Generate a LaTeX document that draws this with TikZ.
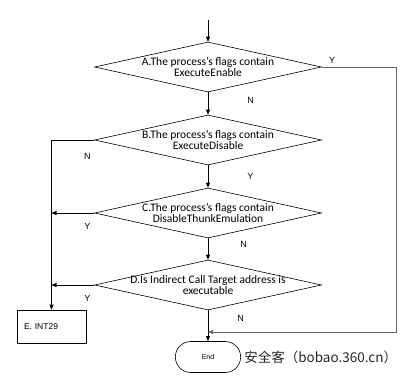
\documentclass[tikz,border=0pt]{standalone}
\usepackage{fontspec}
\setmainfont{Carlito}
\newfontfamily\labelfont{Liberation Sans}
\newfontfamily\cjkfont{Noto Sans CJK SC}
\usetikzlibrary{shapes.geometric, shapes.misc, arrows.meta}

\begin{document}
\begin{tikzpicture}[x=1pt, y=-1pt, line width=0.6pt,
        decision/.style={diamond, draw, minimum width=227pt, minimum height=50pt, inner sep=0pt},
        dtext/.style={font=\fontsize{11.5}{11}\selectfont, align=center, inner sep=0pt},
        procbox/.style={rectangle, draw, minimum height=33pt, text width=55pt, inner xsep=7pt, align=left, font=\labelfont\fontsize{8.5}{10}\selectfont},
        terminal/.style={rounded rectangle, draw, minimum width=72pt, minimum height=31pt, font=\labelfont\fontsize{7}{8}\selectfont},
        lbl/.style={font=\labelfont\fontsize{9}{10}\selectfont, inner sep=1pt},
        arr/.style={-{Triangle[length=5pt, width=4pt]}}]
    \useasboundingbox (0,0) rectangle (415,375);
    \coordinate (start) at (208,20);
    \node[decision, label={[dtext]center:{A.The process’s flags contain\\ExecuteEnable}}] (dA) at (208,67) {};
    \node[decision, label={[dtext]center:{B.The process’s flags contain\\ExecuteDisable}}] (dB) at (208,140) {};
    \node[decision, label={[dtext]center:{C.The process’s flags contain\\DisableThunkEmulation}}] (dC) at (208,213) {};
    \node[decision, label={[dtext]center:{D.Is Indirect Call Target address is\\executable}}] (dD) at (208,285) {};
    \node[procbox] (boxE) at (51.5,326.5) {E. INT29};
    \node[terminal] (endT) at (208,357) {End};
    \node[anchor=west, inner sep=0pt, font=\cjkfont\fontsize{13.5}{15}\selectfont, black!85] (wmark) at (244,357) {安全客（bobao.360.cn）};
    \coordinate (loopR) at (396,332);
    \coordinate (joinE) at (208,332);
    % main line
    \draw[arr] (start) -- (dA.north);
    \draw[arr] (dA.south) -- node[lbl, pos=0.35, right=38pt] {N} (dB.north);
    \draw[arr] (dB.south) -- node[lbl, pos=0.5, right=38pt] {Y} (dC.north);
    \draw[arr] (dC.south) -- node[lbl, pos=0.3, right=31pt] {N} (dD.north);
    \draw[arr] (dD.south) -- node[lbl, pos=0.25, right=28pt] {N} (endT.north);
    % right loop
    \draw[arr, black!60] (dA.east) -| node[lbl, pos=0.07, above=2pt, black] {Y} (loopR) -- (joinE);
    % left side
    \draw[arr] (dB.west) -| node[lbl, pos=0.08, below=12pt] {N} (boxE.north);
    \draw[arr] (dC.west) -- node[lbl, pos=0.16, below=9pt] {Y} (dC.west -| boxE.north);
    \draw[arr] (dD.west) -- node[lbl, pos=0.16, below=9pt] {Y} (dD.west -| boxE.north);
\end{tikzpicture}
\end{document}
